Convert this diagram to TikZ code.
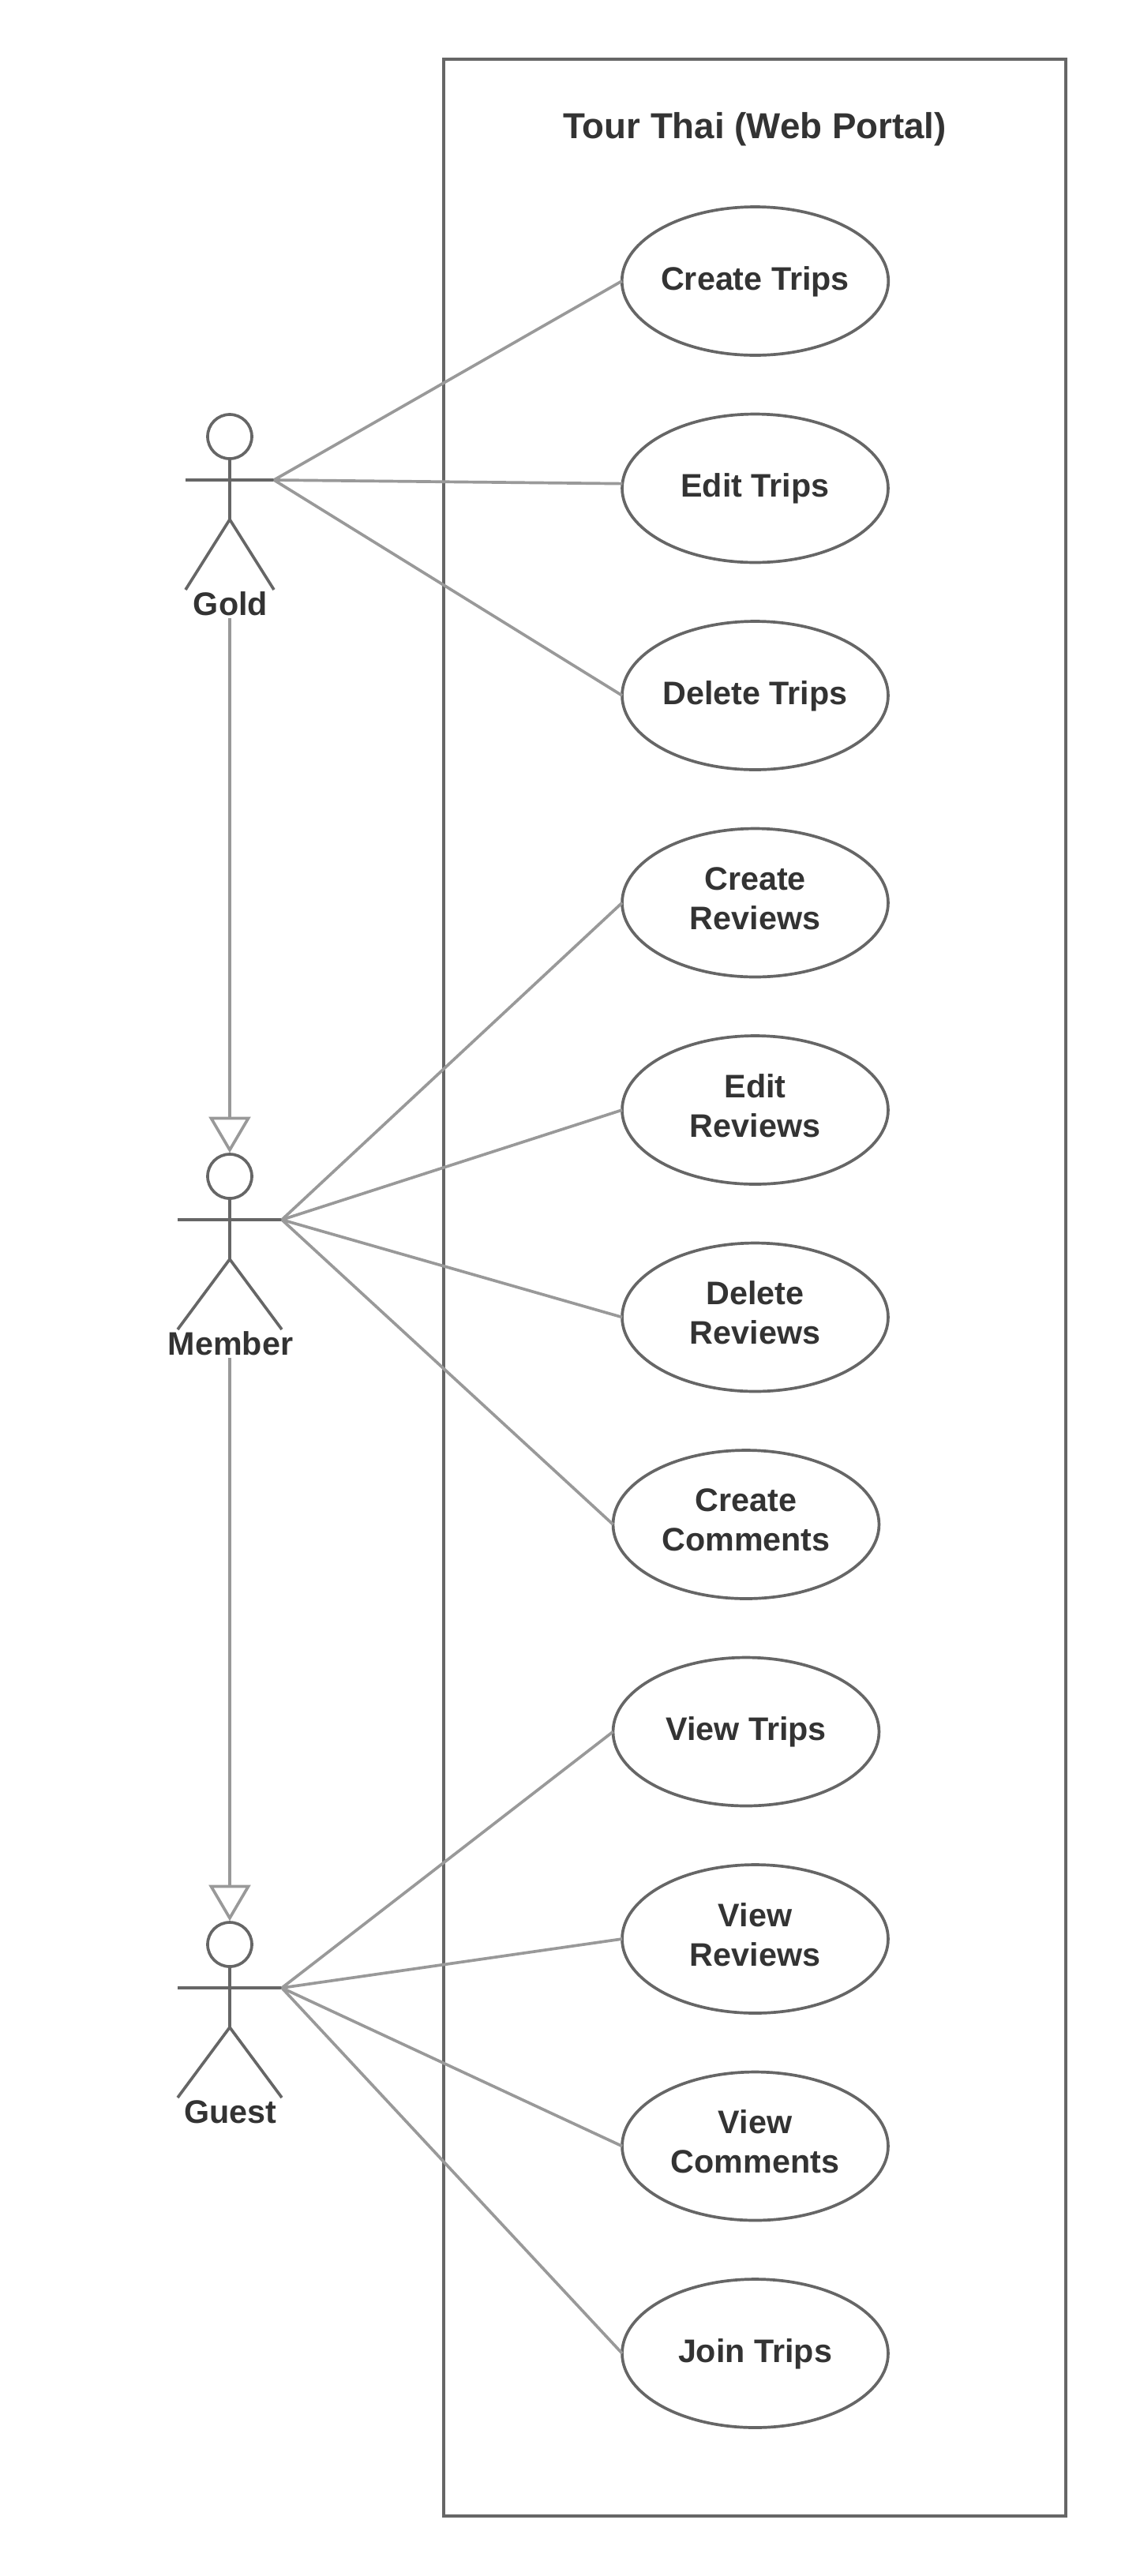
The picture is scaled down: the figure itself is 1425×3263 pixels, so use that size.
\documentclass[tikz,border=0pt]{standalone}
\usepackage{fontspec}
\setmainfont{Liberation Sans}
\usetikzlibrary{arrows.meta,shapes.geometric}
\definecolor{framegray}{HTML}{666666}
\definecolor{linkgray}{HTML}{999999}
\definecolor{textgray}{HTML}{333333}
\tikzstyle{usecase}=[ellipse,draw=framegray,line width=2.1pt,minimum width=6.74cm,minimum height=3.76cm,inner sep=0pt,outer sep=0pt,align=center,text=textgray,font=\fontsize{23.5}{28.5}\selectfont\bfseries,text depth=0.45em]
\tikzstyle{usecasewrap}=[usecase,text depth=0.66em]
\tikzstyle{system}=[draw=framegray,line width=2.2pt]
\tikzstyle{title}=[text=textgray,font=\fontsize{26}{31}\selectfont\bfseries]
\tikzstyle{actorhead}=[circle,draw=framegray,line width=2.1pt,minimum size=1.12cm,inner sep=0pt,outer sep=0pt]
\tikzstyle{actorbody}=[draw=framegray,line width=2.1pt]
\tikzstyle{actorname}=[anchor=base,inner sep=1.7pt,text=textgray,font=\fontsize{23.5}{28}\selectfont\bfseries]
\tikzstyle{edge}=[draw=linkgray,line width=2.1pt]
\tikzstyle{generalize}=[edge,shorten >=1pt,-{Triangle[open,fill=white,length=26pt,width=30pt]}]

\begin{document}
\begin{tikzpicture}[x=0.02cm,y=-0.02cm]
    \useasboundingbox (0,0) rectangle (1425,3263);
    % The system frame and its title
    \node[system,minimum width=15.76cm,minimum height=62.24cm,inner sep=0pt] (portal) at (956,1631) {};
    \node[title] (portaltitle) at (956,164) {Tour Thai (Web Portal)};
    % Then the use cases, one line of text first
    \foreach \pos/\name/\txt in {{(956.5,356)/createtrips/Create Trips}, {(956.5,618.5)/edittrips/Edit Trips}, {(956.5,881)/deletetrips/Delete Trips},
        {(945,2193.5)/viewtrips/View Trips}, {(956.5,2981)/jointrips/Join Trips}}
        \node[usecase] (\name) at \pos {\txt};
    \foreach \pos/\name/\txt in {{(956.5,1143.5)/createreviews/{Create\\Reviews}}, {(956.5,1406)/editreviews/{Edit\\Reviews}}, {(956.5,1668.5)/deletereviews/{Delete\\Reviews}},
        {(945,1931)/createcomments/{Create\\Comments}}, {(956.5,2456)/viewreviews/{View\\Reviews}}, {(956.5,2718.5)/viewcomments/{View\\Comments}}}
        \node[usecasewrap] (\name) at \pos {\txt};
    % The actors, each drawn from the centre of its head
    \foreach \name/\ypos/\reach/\txt in {gold/553/56/Gold, member/1490/66/Member, guest/2463/66/Guest} {
        \node[actorhead] (\name head) at (291,\ypos) {};
        \coordinate (\name hand) at (291+\reach,\ypos+55);
        \path[actorbody] (\name head) -- (291,\ypos+105);
        \path[actorbody] (291-\reach,\ypos+55) -- (291+\reach,\ypos+55);
        \path[actorbody] (291-\reach,\ypos+194) -- (291,\ypos+105) -- (291+\reach,\ypos+194);
        \node[actorname] (\name label) at (292,\ypos+226) {\txt};
    }
    % Connect actors with use cases
    \foreach \source/\dest in {gold/createtrips.west, gold/edittrips.178, gold/deletetrips.west,
        member/createreviews.west, member/editreviews.west, member/deletereviews.west, member/createcomments.west,
        guest/viewtrips.west, guest/viewreviews.west, guest/viewcomments.west, guest/jointrips.west}
        \path[edge] (\source hand) -- (\dest);
    % Generalization between the actors
    \foreach \source/\dest in {gold/member, member/guest}
        \path[generalize] (\source head.south |- \source label.south) -- (\dest head.north);
\end{tikzpicture}
\end{document}
